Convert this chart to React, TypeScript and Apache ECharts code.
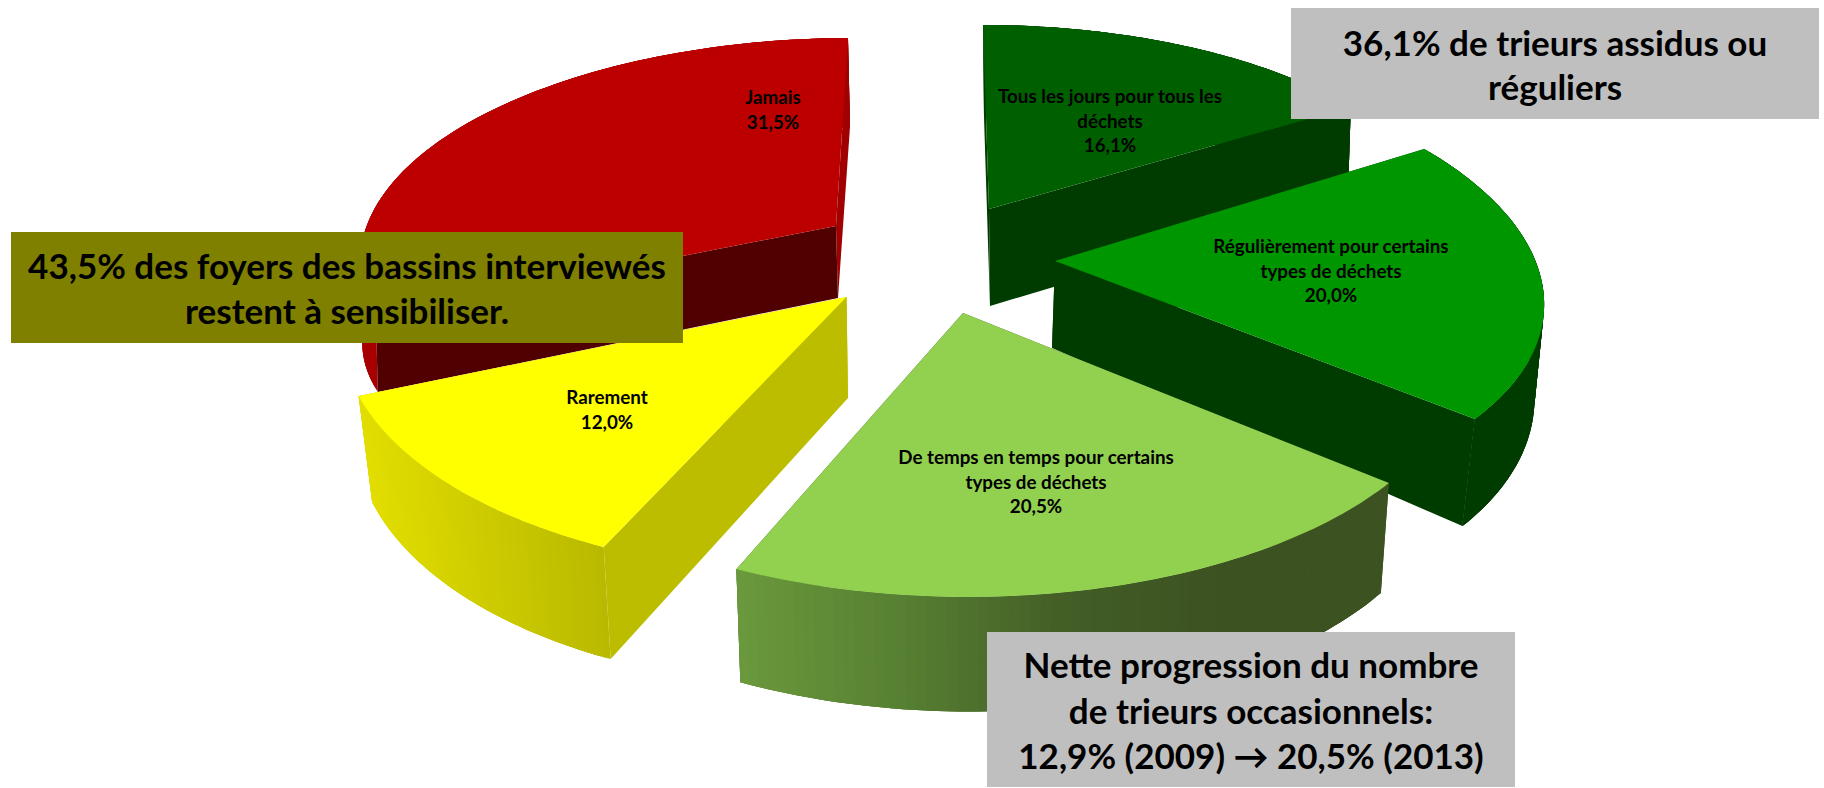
import React, { useEffect, useRef } from "react";
import * as echarts from "echarts";

const categories = [
  "Tous les jours pour tous les\ndéchets",
  "Régulièrement pour certains\ntypes de déchets",
  "De temps en temps pour certains\ntypes de déchets",
  "Rarement",
  "Jamais",
];
const values = [16.1, 20.0, 20.5, 12.0, 31.5];
const valueLabels = ["16,1%", "20,0%", "20,5%", "12,0%", "31,5%"];

const total = values.reduce((p, v) => p + v, 0);
const D2R = Math.PI / 180;

// Per-slice projective placement of the exploded 3D pie
const geometry = [
  { ax: 989, ay: 209, a: 453.9, b: -6.6, c: 0, d: -202.4, h: 0.1, ox: 1, oxs: -4.7, oxc: 0, oy: 97, oys: -2.8, oyc: -5 },
  { ax: 1055, ay: 261, a: 481.7, b: -36.1, c: 3.2, d: -227.2, h: 0.1, ox: -3, oxs: -5.3, oxc: 8.47, oy: 87, oys: 6.45, oyc: -23.5 },
  { ax: 963, ay: 313, a: 494, b: -4.4, c: -0.1, d: -238.5, h: 0.16, ox: -1, oxs: -10, oxc: -1.08, oy: 100, oys: 0.87, oyc: -14.6 },
  { ax: 846.5, ay: 297, a: 500.5, b: 22.4, c: 3.95, d: -249.5, h: 0.1, ox: 1.5, oxs: -12.9, oxc: -0.37, oy: 101, oys: -0.34, oyc: -11.9 },
  { ax: 836, ay: 226, a: 470, b: 13.5, c: -1.85, d: -211.9, h: 0.127, ox: 2, oxs: 0, oxc: 0, oy: 72, oys: -11.7, oyc: 17 },
];
const topColors = ["#006000", "#009600", "#92D050", "#FFFF00", "#BC0000"];
const startWallColors = ["#003C00", "#003C00", "#3C5221", "#BDBD00", "#500000"];
const endWallColors = ["#003C00", "#003C00", "#3C5221", "#BDBD00", "#A00000"];
const outerWallStops = [
  ["#003C00", "#003C00"],
  ["#003C00", "#003C00"],
  ["#6B993D", "#578032", "#435E26", "#3C5221", "#3C5221"],
  ["#E2DE00", "#B9B900"],
  ["#A80000", "#A00000"],
];
const startWallOverOuter = [false, false, false, false, true];
const drawLayer = [0, 2, 3, 4, 1];
const labelAnchors = [
  [1110, 120],
  [1331, 270],
  [1036, 481],
  [607, 409],
  [773, 109],
];

const boxRects = [
  { x: 1291, y: 8, w: 528, h: 111, fill: "#BFBFBF" },
  { x: 11, y: 232, w: 672, h: 111, fill: "#7F7F00" },
  { x: 987, y: 632, w: 528, h: 155, fill: "#BFBFBF" },
];
const boxTexts = [
  "36,1% de trieurs assidus ou\nréguliers",
  "43,5% des foyers des bassins interviewés\nrestent à sensibiliser.",
  "Nette progression du nombre\nde trieurs occasionnels:\n12,9% (2009) → 20,5% (2013)",
];
const boxLineHeights = [44, 45.5, 45.5];

function top(g: any, t: number) {
  const s = Math.sin(t * D2R), c = Math.cos(t * D2R), w = 1 + g.h * c;
  return [g.ax + (g.a * s + g.b * c) / w, g.ay + (g.c * s + g.d * c) / w];
}
function bottom(g: any, t: number) {
  const s = Math.sin(t * D2R), c = Math.cos(t * D2R), p = top(g, t);
  return [p[0] + g.ox + g.oxs * s + g.oxc * c, p[1] + g.oy + g.oys * s + g.oyc * c];
}

function renderSlice(params: any, api: any) {
  const i = params.dataIndex;
  const g = geometry[i];
  let before = 0;
  for (let k = 0; k < i; k++) before += values[k];
  const t0 = (before / total) * 360;
  const t1 = ((before + api.value(0)) / total) * 360;
  const N = 72;
  const arc: number[][] = [], arcB: number[][] = [];
  for (let k = 0; k <= N; k++) {
    const t = t0 + ((t1 - t0) * k) / N;
    arc.push(top(g, t));
    arcB.push(bottom(g, t));
  }
  const xs = arc.map((p) => p[0]);
  const minX = Math.min(...xs), maxX = Math.max(...xs);
  const apex = [g.ax, g.ay];
  const apexB = [g.ax + g.ox, g.ay + g.oy];
  const z = drawLayer[i] * 10;
  const wall = (pts: number[][], fill: any, z2: number) => ({
    type: "polygon",
    z2,
    shape: { points: pts },
    style: { fill, stroke: "none" },
  });
  // Rim of the slice: strips overlap the next one so that no seam shows
  const strips: any[] = [];
  for (let k = 0; k < N; k++) {
    const e = Math.min(k + 3, N);
    const frac = ((arc[k][0] + arc[k + 1][0]) / 2 - minX) / (maxX - minX);
    const col = echarts.color.lerp(frac, outerWallStops[i]);
    const pts: number[][] = [];
    for (let m = k; m <= e; m++) pts.push(arc[m]);
    for (let m = e; m >= k; m--) pts.push(arcB[m]);
    strips.push({
      type: "polygon",
      z2: z + 3,
      shape: { points: pts },
      style: { fill: col, stroke: "none" },
    });
  }
  return {
    type: "group",
    children: [
      wall([apex, arc[0], arcB[0], apexB], startWallColors[i], startWallOverOuter[i] ? z + 3.5 : z + 1),
      wall([apex, arc[N], arcB[N], apexB], endWallColors[i], z + 2),
      ...strips,
      wall([apex, ...arc], topColors[i], z + 4),
      {
        type: "text",
        z2: 100,
        style: {
          x: labelAnchors[i][0],
          y: labelAnchors[i][1],
          text: categories[i] + "\n" + valueLabels[i],
          align: "center",
          verticalAlign: "middle",
          textAlign: "center",
          textVerticalAlign: "middle",
          fill: "#000000",
          font: "bold 18.8px Lato",
          lineHeight: 24.5,
        },
      },
    ],
  };
}

export default function App() {
  const ref = useRef<HTMLDivElement>(null);
  useEffect(() => {
    const chart = echarts.init(ref.current!, null, { renderer: "svg" });
    chart.setOption({
      animation: false,
      backgroundColor: "#FFFFFF",
      series: [
        {
          type: "custom",
          coordinateSystem: "none",
          renderItem: renderSlice,
          data: values.map((v) => [v]),
          silent: true,
          z: 2,
        },
      ],
      graphic: boxRects.flatMap((b, i) => [
        {
          type: "rect",
          z: 10,
          silent: true,
          shape: { x: b.x, y: b.y, width: b.w, height: b.h },
          style: { fill: b.fill },
        },
        {
          type: "text",
          z: 11,
          silent: true,
          style: {
            x: b.x + b.w / 2,
            y: b.y + b.h / 2,
            text: boxTexts[i],
            align: "center",
            verticalAlign: "middle",
            textAlign: "center",
            textVerticalAlign: "middle",
            fill: "#000000",
            font: "bold 35px Lato",
            lineHeight: boxLineHeights[i],
          },
        },
      ]),
    });
    return () => chart.dispose();
  }, []);
  return (
    <div
      ref={ref}
      style={{ position: "absolute", left: 0, top: 0, width: 1824, height: 788 }}
    />
  );
}
